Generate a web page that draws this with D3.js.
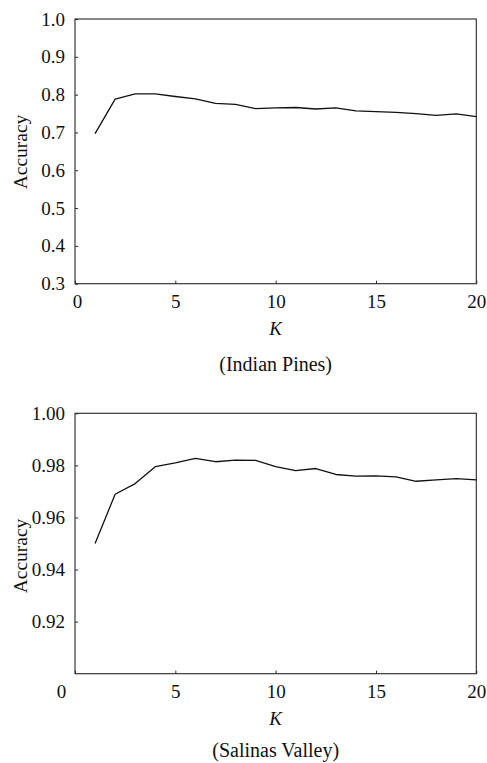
<!DOCTYPE html>
<html>
<head>
<meta charset="utf-8">
<script src="https://cdn.jsdelivr.net/npm/d3@7"></script>
<style>
  html, body { margin: 0; padding: 0; background: #fff; }
  svg { display: block; }
  svg text { font-family: "Liberation Serif", "DejaVu Serif", "Times New Roman", Times, serif !important; fill: #111; }
  .frame { fill: none; stroke: #262626; stroke-width: 1.1; }
  .curve { fill: none; stroke: #111; stroke-width: 1.3; stroke-linejoin: round; }
  .axis text { font-size: 19px; }
  .axis line { stroke: #262626; }
</style>
</head>
<body>
<div id="chart"></div>
<script>
/* Accuracy vs K for two datasets */

const kValues = [1, 2, 3, 4, 5, 6, 7, 8, 9, 10, 11, 12, 13, 14, 15, 16, 17, 18, 19, 20];

const indianPinesAcc = [0.697, 0.788, 0.802, 0.802, 0.795, 0.789, 0.777, 0.774, 0.763, 0.765,
  0.766, 0.762, 0.765, 0.757, 0.755, 0.753, 0.750, 0.745, 0.749, 0.742];

const salinasAcc = [0.9500, 0.9689, 0.9730, 0.9795, 0.9810, 0.9827, 0.9814, 0.9820, 0.9819, 0.9795,
  0.9780, 0.9788, 0.9765, 0.9759, 0.9760, 0.9756, 0.9739, 0.9744, 0.9749, 0.9744];

const xTicks = [0, 5, 10, 15, 20];
const indianYTicks = [0.3, 0.4, 0.5, 0.6, 0.7, 0.8, 0.9, 1.0];
const salinasYTicks = [0.92, 0.94, 0.96, 0.98, 1.00];

const width = 487;
const height = 763;
const serif = '"Liberation Serif", "DejaVu Serif", serif';

const svg = d3.select('#chart').append('svg')
  .attr('width', width).attr('height', height)
  .attr('font-family', serif);

function renderPanel(opts) {
  const { top, bottom, yDomain, yTicks, yFormat, values, caption, yLabelY, zeroShift, captionGap } = opts;
  const left = 75, right = 476.3;

  const x = d3.scaleLinear().domain([0, 20]).range([left, right]);
  const y = d3.scaleLinear().domain(yDomain).range([bottom, top]);

  // y axis, ticks pointing inward
  const ya = svg.append('g').attr('class', 'axis')
    .attr('transform', `translate(${left},0)`)
    .call(d3.axisLeft(y).tickValues(yTicks).tickFormat(d3.format(yFormat)).tickSize(-3).tickPadding(10));
  ya.attr('font-family', serif).attr('font-size', 19);
  ya.select('.domain').remove();

  // x axis
  const xa = svg.append('g').attr('class', 'axis')
    .attr('transform', `translate(0,${bottom})`)
    .call(d3.axisBottom(x).tickValues(xTicks).tickSize(-3));
  xa.attr('font-family', serif).attr('font-size', 19);
  xa.select('.domain').remove();
  xa.selectAll('text')
    .attr('dy', null)
    .attr('y', 24.5)
    .attr('x', d => d === 0 ? zeroShift : 0);

  svg.append('rect').attr('class', 'frame')
    .attr('x', left).attr('y', top)
    .attr('width', right - left).attr('height', bottom - top);

  const line = d3.line()
    .x((d, i) => x(kValues[i]))
    .y(d => y(d));

  svg.append('path').attr('class', 'curve')
    .datum(values)
    .attr('d', line);

  svg.append('text')
    .attr('x', (left + right) / 2).attr('y', bottom + 51)
    .attr('text-anchor', 'middle')
    .style('font-size', '19px').style('font-style', 'italic')
    .text('K');

  svg.append('text')
    .attr('x', (left + right) / 2).attr('y', bottom + captionGap)
    .attr('text-anchor', 'middle')
    .style('font-size', '20px')
    .text(caption);

  svg.append('text')
    .attr('transform', `translate(26.5,${yLabelY}) rotate(-90)`)
    .attr('text-anchor', 'middle')
    .style('font-size', '19.5px')
    .text('Accuracy');
}

renderPanel({
  top: 19, bottom: 283.7, yDomain: [0.3, 1.0], yTicks: indianYTicks, yFormat: '.1f',
  values: indianPinesAcc, caption: '(Indian Pines)', yLabelY: 152, zeroShift: 2, captionGap: 87
});

renderPanel({
  top: 413.3, bottom: 673.7, yDomain: [0.90, 1.00], yTicks: salinasYTicks, yFormat: '.2f',
  values: salinasAcc, caption: '(Salinas Valley)', yLabelY: 556, zeroShift: -14, captionGap: 83
});
</script>
</body>
</html>
